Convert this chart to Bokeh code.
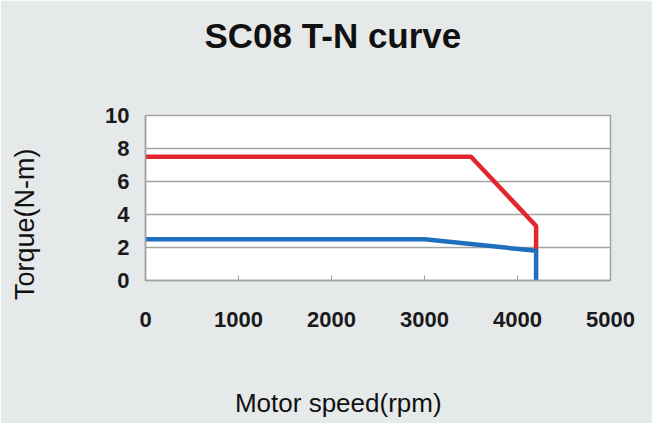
from bokeh.plotting import figure
from bokeh.models import Range1d, FixedTicker, Title
from bokeh.embed import file_html
from bokeh.resources import INLINE

# Data
rated_speed = [0, 3500, 4200, 4200]
rated_peak_torque = [7.5, 7.5, 3.3, 1.8]
cont_speed = [0, 3000, 4200, 4200]
cont_torque = [2.5, 2.5, 1.8, 0]
x_ticks = [0, 1000, 2000, 3000, 4000, 5000]
y_ticks = [0, 2, 4, 6, 8, 10]
title_text = "SC08 T-N curve"
x_label = "Motor speed(rpm)"
y_label = "Torque(N-m)"

BG = "#e6e9ea"
GRID = "#a2a2a2"
FONT = "Liberation Sans"
NBSP = "\u00a0"

p = figure(width=652, height=423, output_backend="svg", toolbar_location=None,
           x_range=Range1d(0, 5000), y_range=Range1d(0, 10),
           min_border_left=145, min_border_right=42, min_border_top=115, min_border_bottom=143)
p.background_fill_color = "white"
p.border_fill_color = BG
p.outline_line_color = GRID
p.outline_line_width = 1.5

# title
p.title.text = title_text
p.title.align = "left"
p.title.offset = 59
p.title.vertical_align = "top"
p.title.standoff = 30
p.title.text_font = FONT
p.title.text_font_style = "bold"
p.title.text_font_size = "35px"
p.title.text_color = "#111111"
p.add_layout(Title(text=" ", text_font_size="10px", standoff=31), "above")

p.xaxis.ticker = FixedTicker(ticks=x_ticks)
p.yaxis.ticker = FixedTicker(ticks=y_ticks)
for ax in (p.xaxis, p.yaxis):
    ax.axis_line_color = GRID
    ax.axis_line_width = 1.5
    ax.minor_tick_line_color = None
    ax.major_label_text_font = FONT
    ax.major_label_text_font_style = "bold"
    ax.major_label_text_font_size = "22px"
    ax.major_label_text_color = "#1a1a1a"
    ax.major_tick_out = 0
    ax.axis_label_text_font = FONT
    ax.axis_label_text_font_style = "normal"
    ax.axis_label_text_color = "#111111"
p.xaxis.major_tick_in = 5
p.xaxis.major_tick_line_color = GRID
p.xaxis.major_label_standoff = 31
p.xaxis.axis_label = x_label + NBSP * 11
p.xaxis.axis_label_text_font_size = "26px"
p.xaxis.axis_label_standoff = 58
p.yaxis.major_tick_in = 0
p.yaxis.major_tick_line_color = None
p.yaxis.major_label_standoff = 16
p.yaxis.axis_label = y_label + NBSP * 7
p.yaxis.axis_label_text_font_size = "27px"
p.yaxis.axis_label_standoff = 62

p.xgrid.grid_line_color = None
p.ygrid.grid_line_color = GRID
p.ygrid.grid_line_width = 1.5

p.line(rated_speed, rated_peak_torque, line_color="#e3262e", line_width=4.5, line_join="round")
p.line(cont_speed, cont_torque, line_color="#1f6fbf", line_width=4.5, line_join="round")

open("out.html", "w").write(file_html(p, INLINE))
